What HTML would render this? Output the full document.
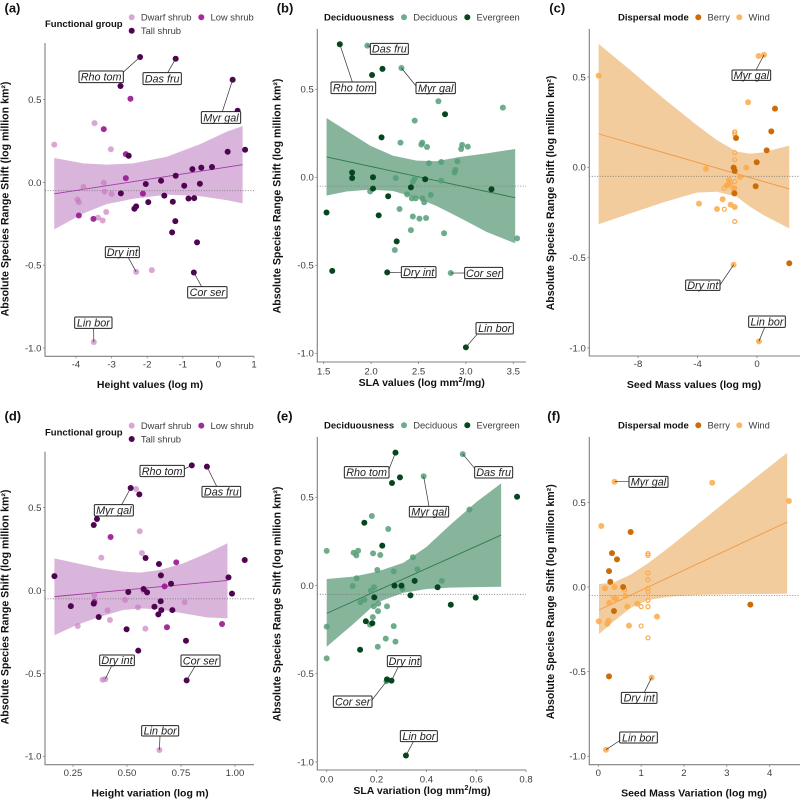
<!DOCTYPE html>
<html>
<head>
<meta charset="utf-8">
<title>Species range shift vs traits</title>
<style>
html,body{margin:0;padding:0;background:#fff;width:800px;height:800px;overflow:hidden}
svg{display:block}
text{font-family:"Liberation Sans",sans-serif}
</style>
</head>
<body>
<svg id="chart" width="800" height="800" viewBox="0 0 800 800" xmlns="http://www.w3.org/2000/svg"></svg>
<script>
// ---------- Panel (a) data ----------
const aDwarfX=[-2.31,-3.50,-4.61,-3.48,-3.02,-3.22,-3.20,-3.00,-3.79,-3.96,-3.92,-3.15,-3.38,-3.25,-1.87];
const aDwarfY=[-0.54,-0.964,0.228,0.358,0.20,-0.002,-0.056,-0.07,-0.028,-0.103,-0.119,-0.179,-0.213,-0.23,-0.53];
const aLowX=[-2.47,-3.22,-2.60,-2.60,-2.12,-3.92,-3.51];
const aLowY=[0.505,0.322,0.171,0.026,-0.068,-0.20,-0.22];
const aTallX=[-2.20,-1.20,0.40,-0.69,-2.75,0.54,-2.52,0.75,0.26,-0.18,-0.48,-0.73,-1.20,-1.61,-2.04,-0.96,-0.52,-2.74,-1.52,-0.84,-0.68,-1.28,-1.97,-2.31,-2.36,-1.21,-1.30,-0.60];
const aTallY=[0.757,0.747,0.62,-0.544,0.582,0.433,0.161,0.197,0.185,0.093,0.089,0.08,0.04,0.01,-0.01,-0.02,-0.008,-0.066,-0.08,-0.097,-0.095,-0.117,-0.119,-0.145,-0.159,-0.234,-0.302,-0.362];
const aBandX=[-4.61,-3.79,-3.14,-2.39,-1.45,-0.52,0.23,0.68];
const aBandUpper=[0.147,0.115,0.107,0.115,0.155,0.23,0.306,0.34];
const aBandLower=[-0.284,-0.187,-0.131,-0.099,-0.074,-0.083,-0.107,-0.127];
const aFitX=[-4.61,0.68];
const aFitY=[-0.069,0.107];
const aTicksX=[-4,-3,-2,-1,0,1];
const aTickLabelsX=['-4','-3','-2','-1','0','1'];

// ---------- Panel (b) data ----------
const bDeciduousX=[1.96,2.32,2.84,2.71,3.39,2.46,2.31,2.54,2.53,2.59,2.96,2.95,3.02,2.61,2.74,2.91,2.89,2.88,2.26,2.46,2.44,2.74,1.99,2.38,2.43,2.47,2.54,2.56,2.63,2.30,2.44,2.51,2.58,2.42,2.77,2.25,3.54];
const bDeciduousY=[0.748,0.621,-0.544,0.432,0.396,0.322,0.197,0.197,0.186,0.172,0.184,0.161,0.174,0.08,0.087,0.091,0.042,0.027,-0.004,-0.008,-0.025,-0.019,-0.08,-0.097,-0.12,-0.12,-0.12,-0.142,-0.10,-0.18,-0.223,-0.235,-0.231,-0.30,-0.318,-0.413,-0.347];
const bEvergreenX=[1.67,2.17,3.00,2.01,2.12,2.78,2.11,1.80,1.80,2.02,2.02,2.42,2.57,3.27,2.18,2.08,1.53,2.27,1.59];
const bEvergreenY=[0.756,-0.54,-0.966,0.581,0.616,0.358,0.227,0.027,-0.004,0,-0.064,-0.057,-0.011,-0.068,-0.108,-0.216,-0.20,-0.364,-0.532];
const bBandX=[1.53,1.74,1.99,2.23,2.48,2.69,2.94,3.22,3.52];
const bBandUpper=[0.337,0.265,0.18,0.123,0.095,0.091,0.116,0.136,0.161];
const bBandLower=[-0.104,-0.081,-0.07,-0.078,-0.116,-0.163,-0.231,-0.311,-0.375];
const bFitX=[1.53,3.52];
const bFitY=[0.116,-0.116];
const bTicksX=[1.5,2,2.5,3,3.5];
const bTickLabelsX=['1.5','2.0','2.5','3.0','3.5'];

// ---------- Panel (c) data ----------
const cWindX=[0.47,-1.57,0.13,0.11,-10.65,-0.60,-3.43,-0.72,-1.14,-1.88,-1.82,-1.95,-2.04,-1.59,-3.90,-2.31,-2.69,-1.77,-1.50];
const cWindY=[0.622,-0.539,-0.963,0.616,0.507,0.36,-0.009,-0.002,-0.054,-0.07,-0.089,-0.098,-0.10,-0.116,-0.201,-0.177,-0.231,-0.207,-0.22];
const cBerryX=[1.21,0.96,0.65,-1.41,-0.02,-1.57,-1.50,-0.09,-1.52,2.17];
const cBerryY=[0.325,0.199,0.094,0.162,0.028,-0.002,-0.02,-0.105,-0.144,-0.531];
const cOpenX=[-1.50,-1.50,-1.50,-1.50,-1.50,-1.50,-1.50,-2.22,-2.20,-1.50];
const cOpenY=[0.196,0.185,0.081,0.042,-0.018,-0.079,-0.116,-0.116,-0.232,-0.30];
const cBandX=[-10.65,-8.54,-6.30,-4.06,-2.71,-1.37,-0.47,0.43,2.17];
const cBandUpper=[0.683,0.539,0.382,0.234,0.151,0.087,0.076,0.083,0.12];
const cBandLower=[-0.315,-0.256,-0.194,-0.14,-0.135,-0.162,-0.218,-0.264,-0.339];
const cFitX=[-10.65,2.17];
const cFitY=[0.185,-0.12];
const cTicksX=[-8,-4,0];
const cTickLabelsX=['-8','-4','0'];

// ---------- Panel (d) data ----------
const dDwarfX=[0.40,0.65,0.542,0.559,0.569,0.381,0.349,0.576,0.491,0.767,0.551,0.41,0.421,0.272,0.585,0.387];
const dDwarfY=[-0.534,-0.962,0.612,0.357,0.226,0.198,-0.029,-0.001,-0.057,-0.071,-0.102,-0.12,-0.178,-0.214,-0.23,-0.538];
const dLowX=[0.424,0.728,0.674,0.349,0.685,0.94];
const dLowY=[0.323,0.17,0.025,-0.069,-0.222,-0.202];
const dTallX=[0.80,0.87,0.517,0.776,0.557,0.361,0.346,0.586,1.045,0.648,0.164,0.657,0.97,0.704,0.577,0.506,0.593,0.986,0.656,0.24,0.346,0.627,0.659,0.71,0.645,0.369,0.498,0.773,0.552];
const dTallY=[0.755,0.747,0.618,-0.542,0.58,0.431,0.395,0.196,0.184,0.16,0.087,0.091,0.079,0.041,0.009,-0.009,-0.011,-0.019,-0.065,-0.094,-0.079,-0.098,-0.118,-0.118,-0.144,-0.16,-0.234,-0.303,-0.363];
const dBandX=[0.164,0.267,0.375,0.483,0.56,0.653,0.761,0.869,0.965];
const dBandUpper=[0.194,0.164,0.134,0.114,0.108,0.124,0.164,0.224,0.285];
const dBandLower=[-0.27,-0.208,-0.158,-0.118,-0.108,-0.114,-0.138,-0.162,-0.168];
const dFitX=[0.164,0.965];
const dFitY=[-0.037,0.061];
const dTicksX=[0.25,0.5,0.75,1];
const dTickLabelsX=['0.25','0.50','0.75','1.00'];

// ---------- Panel (e) data ----------
const eDeciduousX=[0.546,0.389,0.24,0.573,0.181,0.247,0,0.108,0.126,0.119,0.186,0.215,0.346,0.203,0.269,0.364,0.462,0.12,0.104,0.19,0.177,0.304,0.151,0.135,0.207,0.189,0.242,0.206,0.185,0.174,0.269,0,0.237,0.276,0.205,0];
const eDeciduousY=[0.745,0.619,-0.543,0.43,0.394,0.32,0.196,0.186,0.197,0.171,0.182,0.173,0.16,0.088,0.08,0.092,0.026,0.041,-0.003,-0.01,-0.029,-0.02,-0.08,-0.095,-0.103,-0.118,-0.118,-0.145,-0.179,-0.222,-0.23,-0.233,-0.301,-0.318,-0.347,-0.413];
const eEvergreenX=[0.276,0.26,0.318,0.242,0.262,0.294,0.764,0.151,0.223,0.272,0.30,0.353,0.445,0.336,0.598,0.498,0.191,0.157,0.183,0.134];
const eEvergreenY=[0.753,-0.539,-0.964,-0.532,0.581,0.613,0.503,0.356,0.226,-0.001,-0.001,0.026,-0.01,-0.056,-0.069,-0.109,-0.067,-0.203,-0.214,-0.364];
const eBandX=[0,0.107,0.201,0.308,0.401,0.495,0.602,0.70];
const eBandUpper=[0.037,0.05,0.078,0.129,0.22,0.343,0.475,0.579];
const eBandLower=[-0.347,-0.218,-0.097,-0.041,-0.02,-0.012,-0.009,-0.007];
const eFitX=[0,0.70];
const eFitY=[-0.158,0.286];
const eTicksX=[0,0.2,0.4,0.6,0.8];
const eTickLabelsX=['0.0','0.2','0.4','0.6','0.8'];

// ---------- Panel (f) data ----------
const fWindX=[0.38,1.245,0.18,2.66,4.45,0.07,0.156,0.38,0.63,0.257,0.366,0.42,0.677,0.91,1.37,0.716,0.01,0.24,0.21];
const fWindY=[0.622,-0.535,-0.961,0.616,0.508,0.36,-0.008,0,-0.053,-0.093,-0.063,-0.071,-0.116,-0.098,-0.175,-0.228,-0.203,-0.199,-0.218];
const fBerryX=[0.755,0.32,0.436,0.25,0.28,0.58,0.366,3.55,0.25];
const fBerryY=[0.325,0.20,0.163,0.094,0.03,0,-0.142,-0.104,-0.528];
const fOpenX=[1.16,1.16,1.16,1.16,1.16,1.16,1.16,1.16,1.00,0.615,1.00,1.16];
const fOpenY=[0.197,0.187,0.083,0.043,-0.008,-0.028,-0.079,-0.116,-0.116,-0.018,-0.23,-0.30];
const fBandX=[0.016,0.35,0.74,1.16,1.67,2.30,3.07,3.85,4.41];
const fBandUpper=[0.018,0.026,0.071,0.14,0.238,0.366,0.524,0.681,0.793];
const fBandLower=[-0.278,-0.205,-0.126,-0.077,-0.057,-0.047,-0.043,-0.041,-0.039];
const fFitX=[0.016,4.41];
const fFitY=[-0.136,0.384];
const fTicksX=[0,1,2,3,4];
const fTickLabelsX=['0','1','2','3','4'];

// ---------- Shared y axis ticks and reference line ----------
const yTicks=[-1,-0.5,0,0.5];
const yTickLabels=['-1.0','-0.5','0.0','0.5'];
const referenceShift=[-0.05];

const svg=document.getElementById('chart');
const NS='http://www.w3.org/2000/svg';
const PURPLE={dwarf:'#c678bd',low:'#9a1a94',tall:'#4e0450',band:'#b56cb8',fit:'#a23aa5'};
const GREEN={dec:'#559e78',eve:'#04471f',band:'#0f6b3a',fit:'#2f7a50'};
const ORANGE={berry:'#cc6c08',wind:'#fbaa4a',band:'#e89a3c',fit:'#ee9a45'};
const ALPHA={};
ALPHA[PURPLE.dwarf]=0.65;
ALPHA[PURPLE.low]=0.92;
ALPHA[PURPLE.tall]=1;
ALPHA[GREEN.dec]=0.85;
ALPHA[GREEN.eve]=1;
ALPHA[ORANGE.berry]=1;
ALPHA[ORANGE.wind]=0.85;

function mk(tag,attrs,parent){
  const el=document.createElementNS(NS,tag);
  for(const k in attrs){el.setAttribute(k,attrs[k]);}
  (parent||svg).appendChild(el);
  return el;
}
function mkText(str,attrs,parent){
  const el=mk('text',attrs,parent);
  el.textContent=str;
  return el;
}
function bandPath(X,U,L,sx,sy){
  let d='';
  X.forEach((v,i)=>{d+=(i?'L':'M')+sx(v).toFixed(2)+' '+sy(U[i]).toFixed(2);});
  for(let i=X.length-1;i>=0;i--){d+='L'+sx(X[i]).toFixed(2)+' '+sy(L[i]).toFixed(2);}
  return d+'Z';
}

function drawPanel(p){
  const g=mk('g',{});
  
  
  const sx=v=>p.x0+v*p.xk;
  const sy=v=>p.y0-v*p.yk;

  // confidence band
  const band=mk('path',{d:bandPath(p.bx,p.bu,p.bl,sx,sy),fill:p.bandColor,'fill-opacity':0.5,stroke:'none'},g);
  
  

  // reference line
  const ref=mk('line',{x1:p.left,x2:p.right,y1:sy(referenceShift[0]),y2:sy(referenceShift[0]),stroke:'#777',
    'stroke-width':0.8,'stroke-dasharray':'1 1.6'},g);
  
  

  // fit line
  const fit=mk('line',{x1:sx(p.fx[0]),y1:sy(p.fy[0]),x2:sx(p.fx[1]),y2:sy(p.fy[1]),stroke:p.fitColor,'stroke-width':0.9},g);
  
  

  // points
  p.series.forEach(s=>{
    s.xs.forEach((v,i)=>{
      const c=mk('circle',s.open
        ?{cx:sx(v),cy:sy(s.ys[i]),r:2,fill:'none',stroke:s.color,'stroke-width':1.2}
        :{cx:sx(v),cy:sy(s.ys[i]),r:3,fill:s.color,'fill-opacity':ALPHA[s.color]},g);
      
      
    });
  });

  // axes
  const yl=mk('line',{x1:p.left,x2:p.left,y1:p.top,y2:p.bottom,stroke:'#7f7f7f','stroke-width':1.1},g);
  
  
  const xl=mk('line',{x1:p.left-0.5,x2:p.right,y1:p.bottom,y2:p.bottom,stroke:'#7f7f7f','stroke-width':1.1},g);
  
  

  yTicks.forEach((v,i)=>{
    const t=mk('line',{x1:p.left-2,x2:p.left,y1:sy(v),y2:sy(v),stroke:'#7f7f7f','stroke-width':0.8},g);
    
    
    const lb=mkText(yTickLabels[i],{x:p.left-3.5,y:sy(v)+3.4,'text-anchor':'end','font-size':9.6,fill:'#3d3d3d'},g);
    
    
  });
  p.tx.forEach((v,i)=>{
    const t=mk('line',{x1:sx(v),x2:sx(v),y1:p.bottom,y2:p.bottom+2,stroke:'#7f7f7f','stroke-width':0.8},g);
    
    
    const lb=mkText(p.tl[i],{x:sx(v),y:p.bottom+p.tickDrop,'text-anchor':'middle','font-size':9.6,fill:'#3d3d3d'},g);
    
    
  });

  // axis titles
  const xt=mk('text',{x:p.xtX,y:p.xtY,'text-anchor':'middle','font-size':10.5,'font-weight':'bold',fill:'#111'},g);
  
  
  if(p.sup){
    const a=mk('tspan',{},xt);a.textContent=p.sup[0];
    const b=mk('tspan',{dy:-3.8,'font-size':7.4},xt);b.textContent='2';
    const c=mk('tspan',{dy:3.8},xt);c.textContent=p.sup[1];
  }else{
    xt.textContent=p.xTitle;
  }
  const yt=mkText('Absolute Species Range Shift (log million km²)',{
    transform:'translate('+p.ytX+','+p.ytY+') rotate(-90)','text-anchor':'middle','font-size':10.6,'font-weight':'bold',fill:'#111'},g);
  
  

  // panel letter
  const pl=mkText('('+p.id+')',{x:p.letterX,y:p.letterY,'font-size':13,'font-weight':'bold',fill:'#111'},g);
  
  

  // legend
  const lt=mkText(p.legendTitle,{x:p.legendTitleX,y:p.legendTitleY,'font-size':9.5,'font-weight':'bold',fill:'#111'},g);
  
  
  p.legend.forEach(e=>{
    const d=mk('circle',{cx:e[1],cy:e[2],r:3,fill:e[3],'fill-opacity':ALPHA[e[3]]},g);
    
    
    const tx=mkText(e[0],{x:e[1]+9.2,y:e[2]+3.3,'font-size':9.4,fill:'#3d3d3d'},g);
    
    
  });

  // species call-outs: [name, series index, point index, box x0,y0,x1,y1, anchor x,y] in 1/3 px panel units
  p.labels.forEach(l=>{
    const s=p.series[l[1]];
    const u=v=>v/3;
    const ax=p.ox+u(l[7]),ay=p.oy+u(l[8]);
    const con=mk('line',{x1:sx(s.xs[l[2]]),y1:sy(s.ys[l[2]]),x2:ax,y2:ay,stroke:'#333','stroke-width':0.7},g);
    
    
    const bx=p.ox+u(l[3]),by=p.oy+u(l[4]),bw=u(l[5]-l[3]),bh=u(l[6]-l[4]);
    const box=mk('rect',{x:bx,y:by,width:bw,height:bh,rx:1,fill:'#fff',stroke:'#222','stroke-width':1},g);
    
    
    const tx=mkText(l[0],{x:bx+bw/2,y:by+bh/2+3.8,'text-anchor':'middle','font-size':10.8,'font-style':'italic',fill:'#222'},g);
    
    
  });
}

const shrubLegendA=[['Dwarf shrub',131.7,17.3,PURPLE.dwarf],['Low shrub',201.3,17.3,PURPLE.low],['Tall shrub',131.7,30.7,PURPLE.tall]];
const shrubLegendD=[['Dwarf shrub',131.7,425.6,PURPLE.dwarf],['Low shrub',201.3,425.6,PURPLE.low],['Tall shrub',131.7,439,PURPLE.tall]];
const leafLegendB=[['Deciduous',404,17.3,GREEN.dec],['Evergreen',467.3,17.3,GREEN.eve]];
const leafLegendE=[['Deciduous',404,425.3,GREEN.dec],['Evergreen',467.3,425.3,GREEN.eve]];
const seedLegendC=[['Berry',698.3,17.3,ORANGE.berry],['Wind',739.3,17.3,ORANGE.wind]];
const seedLegendF=[['Berry',698.3,425.3,ORANGE.berry],['Wind',739.3,425.3,ORANGE.wind]];

drawPanel({id:'a',ox:0,oy:0,left:45,right:254,top:43,bottom:356.3,
  x0:218.4,xk:35.6,y0:182.4,yk:165.6,tickDrop:11.2,
  bx:aBandX,bu:aBandUpper,bl:aBandLower,fx:aFitX,fy:aFitY,tx:aTicksX,tl:aTickLabelsX,
  bandColor:PURPLE.band,fitColor:PURPLE.fit,
  series:[{key:'dwarf-shrub',color:PURPLE.dwarf,xs:aDwarfX,ys:aDwarfY},{key:'low-shrub',color:PURPLE.low,xs:aLowX,ys:aLowY},{key:'tall-shrub',color:PURPLE.tall,xs:aTallX,ys:aTallY}],
  xTitle:'Height values (log m)',xtX:150,xtY:388,ytX:8.5,ytY:199,
  letterX:4.5,letterY:12.5,legendTitle:'Functional group',legendTitleX:45,legendTitleY:27,legend:shrubLegendA,
  labels:[['Rho tom',2,0,237,213,370,248,368,218],['Das fru',2,1,429,218,544,254,503,218],['Myr gal',2,2,604,335,722,370,667,335],
          ['Dry int',0,0,316,740,418,773,385,773],['Cor ser',2,3,563,860,681,894,605,860],['Lin bor',0,1,224,951,336,985,281,985]]});

drawPanel({id:'b',ox:270,oy:0,left:317.3,right:526,top:29,bottom:362,
  x0:181.5,xk:94.8,y0:177.3,yk:176,tickDrop:12.5,
  bx:bBandX,bu:bBandUpper,bl:bBandLower,fx:bFitX,fy:bFitY,tx:bTicksX,tl:bTickLabelsX,
  bandColor:GREEN.band,fitColor:GREEN.fit,
  series:[{key:'deciduous',color:GREEN.dec,xs:bDeciduousX,ys:bDeciduousY},{key:'evergreen',color:GREEN.eve,xs:bEvergreenX,ys:bEvergreenY}],
  sup:['SLA values (log mm','/mg)'],xtX:421.7,xtY:386,ytX:280.5,ytY:196,
  letterX:276.7,letterY:12.5,legendTitle:'Deciduousness',legendTitleX:324,legendTitleY:20.5,legend:leafLegendB,
  labels:[['Rho tom',1,0,183,246,317,281,247,246],['Das fru',0,0,301,130,415,163,301,140],['Myr gal',0,1,438,247,556,281,438,258],
          ['Dry int',1,1,394,800,498,833,394,817],['Cor ser',0,2,584,802,698,836,584,819],['Lin bor',1,2,618,968,730,1002,622,1002]]});

drawPanel({id:'c',ox:530,oy:0,left:589.3,right:800,top:29,bottom:356,
  x0:757,xk:14.87,y0:167.3,yk:180.7,tickDrop:11.2,
  bx:cBandX,bu:cBandUpper,bl:cBandLower,fx:cFitX,fy:cFitY,tx:cTicksX,tl:cTickLabelsX,
  bandColor:ORANGE.band,fitColor:ORANGE.fit,
  series:[{key:'wind',color:ORANGE.wind,xs:cWindX,ys:cWindY},{key:'wind-open',color:ORANGE.wind,xs:cOpenX,ys:cOpenY,open:true},{key:'berry',color:ORANGE.berry,xs:cBerryX,ys:cBerryY}],
  xTitle:'Seed Mass values (log mg)',xtX:694,xtY:388,ytX:554,ytY:193,
  letterX:549.3,letterY:12.5,legendTitle:'Dispersal mode',legendTitleX:618,legendTitleY:20.5,legend:seedLegendC,
  labels:[['Myr gal',0,0,606,210,722,241,678,210],['Dry int',0,1,467,840,570,871,568,858],['Lin bor',0,2,656,948,766,982,704,982]]});

drawPanel({id:'d',ox:0,oy:400,left:45,right:254,top:451.7,bottom:764.7,
  x0:19,xk:216,y0:590.5,yk:165.8,tickDrop:11.2,
  bx:dBandX,bu:dBandUpper,bl:dBandLower,fx:dFitX,fy:dFitY,tx:dTicksX,tl:dTickLabelsX,
  bandColor:PURPLE.band,fitColor:PURPLE.fit,
  series:[{key:'dwarf-shrub',color:PURPLE.dwarf,xs:dDwarfX,ys:dDwarfY},{key:'low-shrub',color:PURPLE.low,xs:dLowX,ys:dLowY},{key:'tall-shrub',color:PURPLE.tall,xs:dTallX,ys:dTallY}],
  xTitle:'Height variation (log m)',xtX:150,xtY:796.7,ytX:8.5,ytY:607,
  letterX:4.5,letterY:420.5,legendTitle:'Functional group',legendTitleX:45,legendTitleY:435.3,legend:shrubLegendD,
  labels:[['Rho tom',2,0,420,196,553,230,553,207],['Das fru',2,1,606,259,722,291,650,259],['Myr gal',2,2,283,314,400,348,365,314],
          ['Dry int',0,0,299,765,403,797,335,797],['Cor ser',2,3,543,765,660,799,585,799],['Lin bor',0,1,425,977,536,1008,480,1008]]});

drawPanel({id:'e',ox:270,oy:400,left:317.3,right:526,top:437,bottom:770,
  x0:326.7,xk:249.2,y0:585.5,yk:176.4,tickDrop:12.5,
  bx:eBandX,bu:eBandUpper,bl:eBandLower,fx:eFitX,fy:eFitY,tx:eTicksX,tl:eTickLabelsX,
  bandColor:GREEN.band,fitColor:GREEN.fit,
  series:[{key:'deciduous',color:GREEN.dec,xs:eDeciduousX,ys:eDeciduousY},{key:'evergreen',color:GREEN.eve,xs:eEvergreenX,ys:eEvergreenY}],
  sup:['SLA variation (log mm','/mg)'],xtX:422,xtY:794,ytX:280.5,ytY:604,
  letterX:276.7,letterY:420.5,legendTitle:'Deciduousness',legendTitleX:324,legendTitleY:428.5,legend:leafLegendE,
  labels:[['Rho tom',1,0,223,200,357,234,357,208],['Das fru',0,0,614,200,728,234,614,205],['Myr gal',0,1,418,319,536,351,477,319],
          ['Dry int',1,1,352,767,453,800,385,800],['Cor ser',0,2,190,888,306,922,306,900],['Lin bor',1,2,391,992,502,1025,430,1025]]});

drawPanel({id:'f',ox:530,oy:400,left:589.3,right:800,top:437,bottom:764.7,
  x0:598.3,xk:42.83,y0:587,yk:169.3,tickDrop:11.2,
  bx:fBandX,bu:fBandUpper,bl:fBandLower,fx:fFitX,fy:fFitY,tx:fTicksX,tl:fTickLabelsX,
  bandColor:ORANGE.band,fitColor:ORANGE.fit,
  series:[{key:'wind',color:ORANGE.wind,xs:fWindX,ys:fWindY},{key:'wind-open',color:ORANGE.wind,xs:fOpenX,ys:fOpenY,open:true},{key:'berry',color:ORANGE.berry,xs:fBerryX,ys:fBerryY}],
  xTitle:'Seed Mass Variation (log mg)',xtX:694,xtY:796.7,ytX:554,ytY:601.7,
  letterX:547.3,letterY:420.5,legendTitle:'Dispersal mode',legendTitleX:618,legendTitleY:428.5,legend:seedLegendF,
  labels:[['Myr gal',0,0,297,229,414,262,297,245],['Dry int',0,1,274,877,381,910,343,877],['Lin bor',0,2,269,996,382,1029,272,1020]]});
</script>
</body>
</html>
